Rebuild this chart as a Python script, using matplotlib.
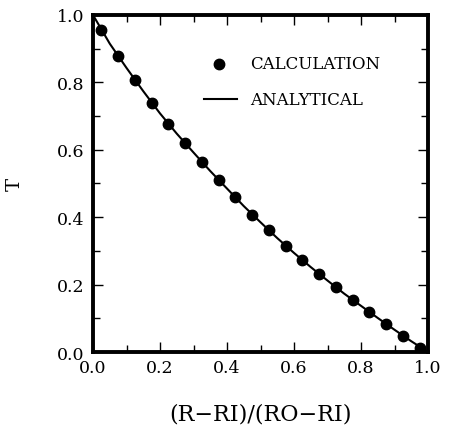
import matplotlib
matplotlib.use("Agg")
import matplotlib.pyplot as plt
from matplotlib.ticker import MultipleLocator

# Data
calc_x = [0.025, 0.075, 0.125, 0.175, 0.225, 0.275, 0.325, 0.375, 0.425, 0.475,
          0.525, 0.575, 0.625, 0.675, 0.725, 0.775, 0.825, 0.875, 0.925, 0.975]
calc_T = [0.955, 0.878, 0.808, 0.740, 0.677, 0.620, 0.565, 0.510, 0.459, 0.407,
          0.361, 0.315, 0.273, 0.232, 0.192, 0.155, 0.118, 0.083, 0.048, 0.013]
anal_x = [0.0, 0.05, 0.1, 0.15, 0.2, 0.25, 0.3, 0.35, 0.4, 0.45, 0.5,
          0.55, 0.6, 0.65, 0.7, 0.75, 0.8, 0.85, 0.9, 0.95, 1.0]
anal_T = [1.0, 0.915, 0.843, 0.774, 0.708, 0.648, 0.592, 0.537, 0.485, 0.433, 0.385,
          0.338, 0.294, 0.252, 0.212, 0.173, 0.137, 0.101, 0.066, 0.032, 0.0]
xticks = [0.0, 0.2, 0.4, 0.6, 0.8, 1.0]
yticks = [0.0, 0.2, 0.4, 0.6, 0.8, 1.0]

plt.rcParams['font.family'] = ['DejaVu Serif']

fig = plt.figure(figsize=(4.49, 4.27), dpi=100)
W, H = 449, 427
ax = fig.add_axes([93 / W, 1 - 353 / H, 335 / W, 337 / H])

ax.plot(anal_x, anal_T, color='black', lw=1.5, zorder=2)
ax.plot(calc_x, calc_T, 'o', color='black', ms=7.5, zorder=3)

ax.set_xlim(0, 1)
ax.set_ylim(0, 1)
ax.set_xticks(xticks)
ax.set_yticks(yticks)
ax.set_xticklabels([f"{v:.1f}" for v in xticks])
ax.set_yticklabels([f"{v:.1f}" for v in yticks])
ax.xaxis.set_minor_locator(MultipleLocator(0.1))
ax.yaxis.set_minor_locator(MultipleLocator(0.1))
ax.tick_params(which='both', direction='in', top=True, right=True, width=1.0, labelsize=12.5)
ax.tick_params(axis='x', which='major', length=7, pad=5)
ax.tick_params(axis='y', which='major', length=7, pad=6)
ax.tick_params(which='minor', length=5)
for s in ax.spines.values():
    s.set_linewidth(2.8)

ax.set_xlabel('(R\u2212RI)/(RO\u2212RI)', fontsize=16, labelpad=19)
ax.set_ylabel('T', fontsize=14, labelpad=24)

# legend drawn manually in axes fraction coordinates
ax.plot([0.375], [0.855], 'o', color='black', ms=7.5, transform=ax.transAxes, clip_on=False)
ax.text(0.47, 0.855, 'CALCULATION', transform=ax.transAxes, fontsize=12,
        va='center', ha='left')
ax.plot([0.33, 0.43], [0.75, 0.75], color='black', lw=1.5, transform=ax.transAxes)
ax.text(0.47, 0.75, 'ANALYTICAL', transform=ax.transAxes, fontsize=12,
        va='center', ha='left')

fig.savefig('out.png', dpi=100)
